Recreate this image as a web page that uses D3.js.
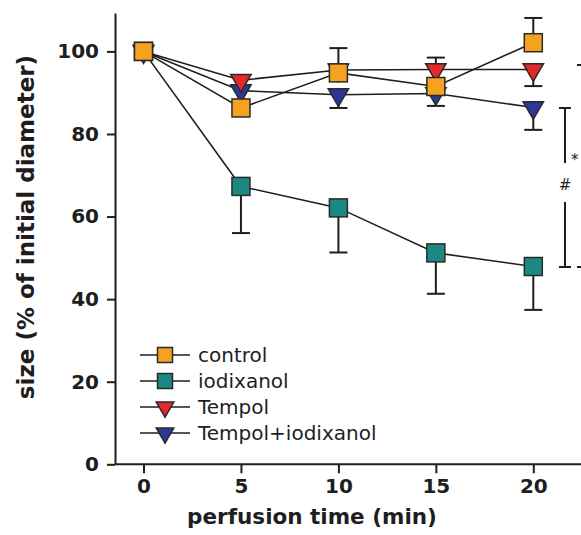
<!DOCTYPE html>
<html>
<head>
<meta charset="utf-8">
<script src="https://cdn.jsdelivr.net/npm/d3@7"></script>
<style>
  body { margin: 0; background: #fff; }
  svg { display: block; }
</style>
</head>
<body>
<div id="chart"></div>
<script>
// perfusion time points (min)
var times = [0, 5, 10, 15, 20];

// mean size (% of initial diameter)
var controlMean = [100, 86.3, 94.8, 91.5, 102.1];
var iodixanolMean = [100, 67.3, 62.1, 51.2, 47.9];
var tempolMean = [100, 93.0, 95.5, 95.6, 95.6];
var tempolIodixanolMean = [100, 90.5, 89.5, 89.8, 86.4];

// error bars (only one side drawn, as in the figure)
var controlErrUp = [0, 0, 6.0, 7.0, 6.0];
var iodixanolErrDown = [0, 11.3, 10.8, 9.9, 10.5];
var tempolErrDown = [0, 0, 0, 0, 4.0];
var tempolIodixanolErrDown = [0, 0, 3.2, 3.0, 5.4];

var seriesNames = ["control", "iodixanol", "Tempol", "Tempol+iodixanol"];
var yTicks = [0, 20, 40, 60, 80, 100];
var xTicks = [0, 5, 10, 15, 20];

var W = 581, H = 535;

var svg = d3.select("#chart")
    .append("svg")
    .attr("width", W)
    .attr("height", H);

var x = d3.scaleLinear().domain([0, 20]).range([143.5, 533.3]);
var y = d3.scaleLinear().domain([0, 109.3]).range([464.3, 13]);

// series table built from the arrays
var series = [
    { name: seriesNames[3], mean: tempolIodixanolMean, err: tempolIodixanolErrDown, dir: -1, shape: "tri", color: "#2d3896" },
    { name: seriesNames[2], mean: tempolMean, err: tempolErrDown, dir: -1, shape: "tri", color: "#e5292a" },
    { name: seriesNames[1], mean: iodixanolMean, err: iodixanolErrDown, dir: -1, shape: "sq", color: "#1b8884" },
    { name: seriesNames[0], mean: controlMean, err: controlErrUp, dir: 1, shape: "sq", color: "#f6a11f" }
];

var ink = "#1e1e1e";

// axes
var yAxis = d3.axisLeft(y).tickValues(yTicks).tickSize(8).tickSizeOuter(0).tickPadding(8);
var gy = svg.append("g").attr("transform", "translate(115,0)").call(yAxis);
gy.select(".domain").attr("stroke", ink).attr("stroke-width", 2);
gy.selectAll(".tick line").attr("stroke", ink).attr("stroke-width", 2);
gy.selectAll(".tick text")
    .attr("fill", ink)
    .style("font-family", "DejaVu Sans")
    .style("font-weight", "bold")
    .style("font-size", "20px");

var xAxis = d3.axisBottom(x).tickValues(xTicks).tickSize(9).tickPadding(6);
var gx = svg.append("g").attr("transform", "translate(0,464.3)").call(xAxis);
gx.select(".domain").remove();
gx.append("line")
    .attr("x1", 115).attr("x2", W)
    .attr("stroke", ink).attr("stroke-width", 2);
gx.selectAll(".tick line").attr("stroke", ink).attr("stroke-width", 2);
gx.selectAll(".tick text")
    .attr("fill", ink)
    .style("font-family", "DejaVu Sans")
    .style("font-weight", "bold")
    .style("font-size", "20px");

// axis titles
svg.append("text")
    .attr("x", 312).attr("y", 524)
    .attr("text-anchor", "middle")
    .attr("fill", ink)
    .style("font-family", "DejaVu Sans")
    .style("font-weight", "bold")
    .style("font-size", "21.5px")
    .text("perfusion time (min)");

svg.append("text")
    .attr("transform", "translate(34,227) rotate(-90)")
    .attr("text-anchor", "middle")
    .attr("fill", ink)
    .style("font-family", "DejaVu Sans")
    .style("font-weight", "bold")
    .style("font-size", "23px")
    .text("size (% of initial diameter)");

// connecting lines
var line = d3.line()
    .x(function (d, i) { return x(times[i]); })
    .y(function (d) { return y(d); });

svg.append("g").selectAll("path")
    .data(series)
    .enter().append("path")
    .attr("d", function (s) { return line(s.mean); })
    .attr("fill", "none")
    .attr("stroke", ink)
    .attr("stroke-width", 1.6);

// error bars
var eb = svg.append("g").attr("stroke", ink).attr("stroke-width", 2);
series.forEach(function (s) {
    s.mean.forEach(function (m, i) {
        if (!s.err[i]) return;
        var cx = x(times[i]);
        var yEnd = y(m + s.dir * s.err[i]);
        eb.append("line").attr("x1", cx).attr("x2", cx).attr("y1", y(m)).attr("y2", yEnd);
        eb.append("line").attr("x1", cx - 9).attr("x2", cx + 9).attr("y1", yEnd).attr("y2", yEnd);
    });
});

function marker(g, shape, color, cx, cy, big) {
    if (shape === "sq") {
        var s = big ? 18 : 15;
        g.append("rect")
            .attr("x", cx - s / 2).attr("y", cy - s / 2)
            .attr("width", s).attr("height", s)
            .attr("fill", color).attr("stroke", "#2a2a2a").attr("stroke-width", 1.5);
    } else {
        var a = big ? 180 : 135;
        g.append("path")
            .attr("d", d3.symbol().type(d3.symbolTriangle).size(a)())
            .attr("transform", "translate(" + cx + "," + cy + ") rotate(180)")
            .attr("fill", color).attr("stroke", "#2a2a2a").attr("stroke-width", 1.5);
    }
}

// markers
var mg = svg.append("g");
series.forEach(function (s) {
    s.mean.forEach(function (m, i) {
        marker(mg, s.shape, s.color, x(times[i]), y(m), true);
    });
});

// legend
var legendOrder = [3, 2, 1, 0];
var lg = svg.append("g");
legendOrder.forEach(function (k, j) {
    var s = series[k];
    var cy = 355 + j * 26;
    lg.append("line")
        .attr("x1", 140).attr("x2", 190).attr("y1", cy).attr("y2", cy)
        .attr("stroke", ink).attr("stroke-width", 1.6);
    marker(lg, s.shape, s.color, 165, cy, false);
    lg.append("text")
        .attr("x", 198).attr("y", cy + 7)
        .attr("fill", ink)
        .style("font-family", "DejaVu Sans")
        .style("font-size", "20px")
        .text(s.name);
});

// significance bracket
var an = svg.append("g").attr("stroke", ink).attr("stroke-width", 2);
an.append("line").attr("x1", 565).attr("x2", 565).attr("y1", 108).attr("y2", 163);
an.append("line").attr("x1", 565).attr("x2", 565).attr("y1", 202).attr("y2", 267);
an.append("line").attr("x1", 559).attr("x2", 571).attr("y1", 108).attr("y2", 108);
an.append("line").attr("x1", 559).attr("x2", 571).attr("y1", 267).attr("y2", 267);
an.append("line").attr("x1", 577).attr("x2", 585).attr("y1", 65).attr("y2", 65);
an.append("line").attr("x1", 577).attr("x2", 585).attr("y1", 267).attr("y2", 267);

svg.append("text")
    .attr("x", 565).attr("y", 190)
    .attr("text-anchor", "middle")
    .attr("fill", ink)
    .style("font-family", "DejaVu Sans")
    .style("font-size", "15px")
    .text("#");

svg.append("text")
    .attr("x", 571).attr("y", 165)
    .attr("fill", ink)
    .style("font-family", "DejaVu Sans")
    .style("font-size", "15px")
    .text("*");
</script>
</body>
</html>
